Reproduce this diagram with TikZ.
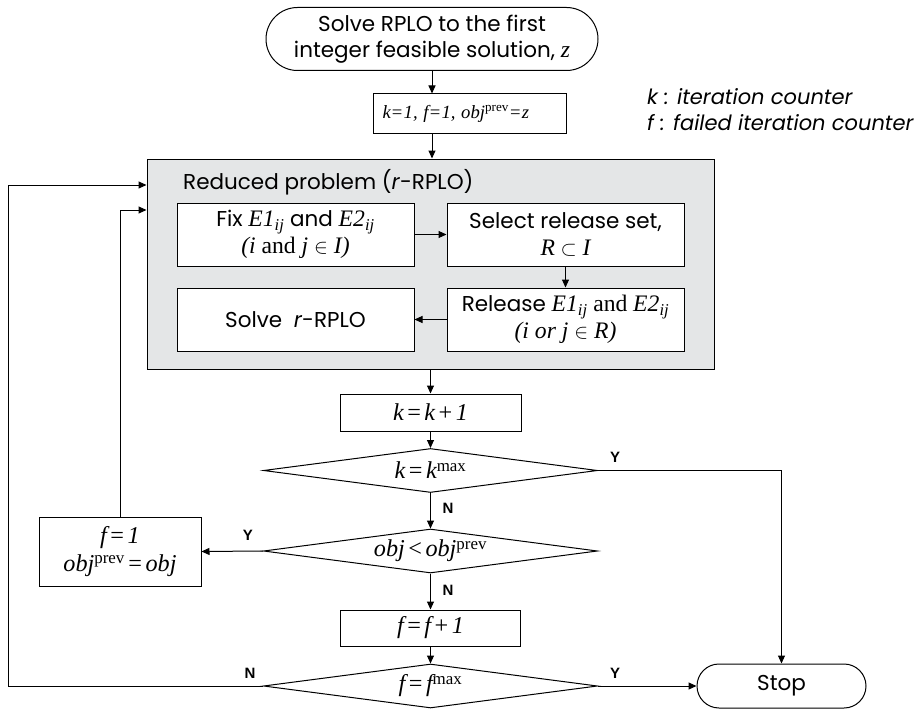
\documentclass[tikz,border=0pt]{standalone}
\usepackage[no-math]{fontspec}
\setmainfont{Poppins}
\newfontfamily\ynfont{Liberation Sans}
\newfontfamily\mathserif[Scale=1.1]{Liberation Serif}
\usetikzlibrary{shapes.geometric,shapes.misc,arrows.meta}
\definecolor{panelgray}{HTML}{E4E6E7}
% formula pieces set in a serif italic
\newcommand{\vi}[1]{{\mathserif\itshape #1}}
\newcommand{\vr}[1]{{\mathserif #1}}
\newcommand{\rel}[1]{\hspace{0.16em}{\mathserif #1}\hspace{0.16em}}
\newcommand{\trel}[1]{\hspace{0.07em}{\mathserif #1}\hspace{0.07em}}
\newcommand{\sups}[1]{\textsuperscript{\mathserif #1}}
\newcommand{\subs}[1]{\textsubscript{\mathserif\itshape #1}}
\begin{document}
\begin{tikzpicture}[x=1pt,y=-1pt,
  every node/.style={font=\fontsize{21.5}{26}\selectfont},
  twoline/.style={font=\fontsize{21.5}{27}\selectfont},
  formula/.style={font=\fontsize{22}{28}\selectfont},
  proc/.style={draw, fill=white, line width=1pt, inner sep=0pt, align=center},
  terminal/.style={draw, fill=white, line width=1pt, inner sep=0pt, align=center,
    rounded rectangle},
  decision/.style={draw, fill=white, line width=1pt, inner sep=0pt, diamond, aspect=7.6,
    minimum width=334pt, minimum height=44pt, formula},
  link/.style={line width=1pt, -{Triangle[length=8pt,width=7pt]}},
  yn/.style={font=\ynfont\bfseries\fontsize{15}{18}\selectfont, inner sep=0pt}]

\useasboundingbox (0,0) rectangle (922,709);

% start and initialisation
\node[terminal, minimum width=332pt, minimum height=63pt] (start) at (432,39)
  {Solve RPLO to the first\\integer feasible solution, \vi{z}};
\node[proc, font=\fontsize{17}{21}\selectfont, minimum width=193pt, minimum height=39pt,
  text width=174pt, align=left] (init) at (469.5,113.5)
  {\mbox{\vi{k}\trel{=}\vi{1, f}\trel{=}\vi{1, obj}\sups{prev}\trel{=}\vi{z}}};

% legend
\node[anchor=west, align=left, inner sep=0pt, font=\itshape\fontsize{21}{26}\selectfont]
  (legend) at (647,110) {k : iteration counter\\f : failed iteration counter};

% reduced problem panel
\node[draw, fill=panelgray, line width=1pt, minimum width=567pt, minimum height=210pt,
  inner sep=0pt] (panel) at (430.5,264) {};
\node[anchor=west, inner sep=0pt] (title) at (183,182) {Reduced problem (\textit{r}-RPLO)};
\node[proc, twoline, minimum width=237pt, minimum height=63pt] (fix) at (295.5,234.5)
  {Fix \vi{E1}\subs{ij} and \vi{E2}\subs{ij}\\
   \vi{(i }\vr{and}\vi{ j }$\in$\vi{ I)}};
\node[proc, twoline, minimum width=237pt, minimum height=63pt] (select) at (565.5,234.5)
  {Select release set,\\\vi{R} $\subset$ \vi{I}};
\node[proc, twoline, minimum width=237pt, minimum height=63pt] (release) at (565.5,319.5)
  {Release \vi{E1}\subs{ij} \vr{and} \vi{E2}\subs{ij}\\
   \vi{(i or j }$\in$\vi{ R)}};
\node[proc, minimum width=237pt, minimum height=63pt] (solve) at (295.5,319.5)
  {Solve \ \textit{r}-RPLO};

% iteration control
\node[proc, formula, minimum width=181pt, minimum height=37pt] (kinc) at (430.5,412.5)
  {\vi{k}\rel{=}\vi{k}\rel{+}\vi{1}};
\node[decision] (dk) at (430.5,470.5) {\vi{k}\rel{=}\vi{k}\sups{max}};
\node[decision] (dobj) at (430.5,551) {\vi{obj}\rel{<}\vi{obj}\sups{prev}};
\node[proc, formula, minimum width=162pt, minimum height=69pt] (fone) at (120,551.5)
  {\vi{f}\rel{=}\vi{1}\\\vi{obj}\sups{prev}\rel{=}\vi{obj}};
\node[proc, formula, minimum width=180pt, minimum height=36pt] (finc) at (430.5,628)
  {\vi{f}\rel{=}\vi{f}\rel{+}\vi{1}};
\node[decision] (df) at (430.5,686) {\vi{f}\rel{=}\vi{f}\sups{max}};
\node[terminal, minimum width=169pt, minimum height=44pt] (stop) at (781.5,686) {Stop};

% connectors
\draw[link] (start.south) -- (start.south |- init.north);
\draw[link] (start.south |- init.south) -- (start.south |- panel.north);
\draw[link] (fix.east) -- (select.west);
\draw[link] (select.south) -- (release.north);
\draw[link] (release.west) -- (solve.east);
\draw[link] (panel.south) -- (kinc.north);
\draw[link] (kinc.south) -- (dk.north);
\draw[link] (dk.east) -| (stop.north);
\draw[link] (dk.south) -- (dobj.north);
\draw[link] (dobj.west) -- (fone.east);
\draw[link] (dobj.south) -- (finc.north);
\draw[link] (finc.south) -- (df.north);
\draw[link] (df.east) -- (stop.west);
\coordinate (outer) at (8,185);
\coordinate (inner) at (120,210);
\draw[link] (df.west) -| (outer) -- (panel.west |- outer);
\draw[link] (fone.north) |- (panel.west |- inner);

% branch labels
\node[yn] (yk) at (615,457) {Y};
\node[yn] (nk) at (448,508) {N};
\node[yn] (yobj) at (248,535) {Y};
\node[yn] (nobj) at (448,590) {N};
\node[yn] (nf) at (250,673) {N};
\node[yn] (yf) at (615,673) {Y};
\end{tikzpicture}
\end{document}
